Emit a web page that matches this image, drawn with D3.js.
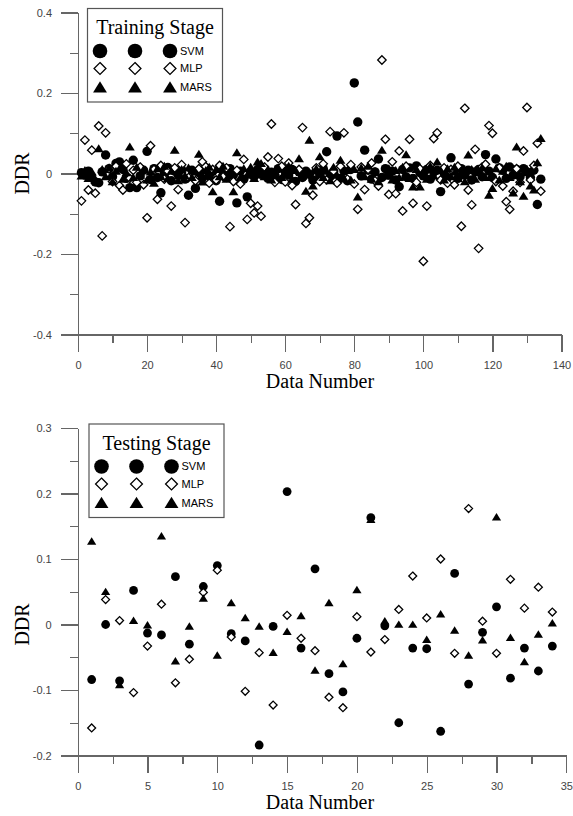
<!DOCTYPE html>
<html>
<head>
<meta charset="utf-8">
<script src="https://cdn.jsdelivr.net/npm/d3@7"></script>
<style>
  body { margin: 0; background: #fff; }
  svg { display: block; }
  .axis path, .axis line { stroke: #666; stroke-width: 1.2; shape-rendering: crispEdges; }
  .axis text { font-family: "Liberation Sans", Arial, sans-serif; font-size: 11px; fill: #444; }
  .title { font-family: "Liberation Serif", "Times New Roman", serif; font-size: 20px; fill: #000; }
  .legend-label { font-family: "Liberation Sans", Arial, sans-serif; font-size: 11px; fill: #000; }
</style>
</head>
<body>
<svg id="chart" width="573" height="816"></svg>
<script>
// ---- training stage (data number 1..134) ----
const trainSVM = [
  0.002, -0.004, 0.006, -0.010, -0.021, -0.023, 0.004, 0.046, 0.012, -0.008,
  0.025, 0.029, 0.010, -0.012, -0.035, 0.033, -0.035, -0.006, 0.008, 0.055,
  -0.015, 0.012, -0.010, -0.048, 0.004, 0.015, -0.018, 0.006, -0.004, 0.010,
  -0.014, -0.054, 0.008, -0.037, 0.002, -0.012, 0.014, -0.006, 0.005, -0.018,
  -0.069, 0.008, -0.010, 0.012, -0.004, -0.073, 0.006, -0.014, -0.058, 0.004,
  -0.008, 0.010, -0.002, 0.007, -0.012, 0.003, -0.006, 0.012, -0.015, 0.005,
  -0.004, 0.010, -0.020, 0.004, -0.010, 0.006, -0.002, -0.016, 0.008, -0.006,
  0.012, 0.054, -0.008, 0.004, 0.093, -0.012, 0.006, -0.018, 0.010, 0.225,
  0.128, -0.006, 0.058, 0.008, -0.014, 0.004, 0.036, -0.010, 0.012, -0.004,
  0.006, -0.016, -0.033, 0.010, -0.008, 0.014, -0.012, 0.019, 0.002, -0.006,
  0.010, -0.014, 0.004, 0.008, -0.045, 0.002, -0.010, 0.039, 0.006, -0.012,
  0.012, -0.004, 0.008, -0.016, 0.004, 0.010, -0.008, 0.047, 0.006, -0.010,
  0.036, 0.014, 0.008, -0.012, 0.016, -0.004, 0.010, -0.008, 0.012, 0.004,
  -0.010, 0.008, -0.077, -0.014
];
const trainMLP = [
  -0.068, 0.083, -0.041, 0.058, -0.049, 0.118, -0.155, 0.101, 0.012, -0.020,
  0.018, -0.030, -0.041, 0.024, -0.012, 0.008, -0.022, 0.016, -0.028, -0.110,
  0.069, 0.010, -0.064, 0.020, -0.014, 0.006, -0.081, 0.014, -0.040, 0.022,
  -0.122, -0.010, 0.234, -0.018, 0.012, 0.029, 0.017, -0.024, 0.010, -0.016,
  0.020, -0.008, 0.014, -0.132, -0.020, 0.008, -0.026, 0.035, -0.114, -0.074,
  -0.098, -0.081, -0.106, 0.016, 0.041, 0.123, -0.022, 0.037, 0.018, -0.021,
  0.026, -0.030, -0.077, 0.010, 0.114, -0.124, -0.110, -0.054, 0.014, -0.020,
  0.024, -0.016, 0.104, 0.006, -0.024, 0.018, 0.101, -0.014, 0.022, -0.026,
  -0.089, 0.016, -0.040, 0.010, 0.026, -0.018, -0.031, 0.282, 0.085, -0.052,
  0.029, -0.050, 0.056, -0.093, 0.018, 0.085, -0.074, -0.022, 0.012, -0.218,
  -0.081, 0.020, 0.087, 0.101, -0.016, 0.014, -0.024, 0.010, -0.028, 0.018,
  -0.131, 0.162, -0.041, -0.078, 0.060, -0.186, 0.016, 0.023, 0.119, 0.100,
  -0.020, 0.014, -0.031, -0.070, -0.089, -0.044, 0.012, -0.022, 0.056, 0.164,
  -0.016, 0.020, 0.075, -0.044
];
const trainMARS = [
  -0.006, 0.008, -0.012, 0.004, -0.016, 0.062, 0.010, -0.008, 0.014, -0.020,
  0.006, 0.012, -0.014, 0.002, 0.066, -0.010, 0.016, -0.004, 0.010, -0.016,
  0.004, -0.024, 0.012, -0.008, 0.018, -0.012, 0.006, 0.058, -0.018, 0.010,
  -0.006, 0.014, -0.010, 0.004, 0.048, -0.021, 0.008, 0.016, -0.045, 0.010,
  -0.008, 0.018, -0.014, 0.006, -0.045, 0.052, -0.010, 0.012, -0.004, 0.016,
  -0.012, 0.029, 0.025, -0.008, 0.010, -0.016, 0.006, 0.014, -0.010, 0.004,
  0.018, -0.014, 0.008, 0.037, -0.006, -0.044, 0.083, -0.031, 0.012, 0.042,
  -0.010, 0.006, -0.018, 0.016, -0.004, 0.033, -0.012, 0.008, -0.016, 0.010,
  -0.058, 0.014, -0.008, 0.018, -0.014, 0.006, -0.020, 0.058, -0.006, 0.012,
  -0.016, 0.008, -0.010, 0.016, 0.047, -0.012, -0.033, 0.010, -0.033, 0.006,
  -0.014, 0.018, -0.006, 0.029, 0.008, -0.016, 0.012, -0.008, 0.016, -0.012,
  0.004, -0.020, 0.046, 0.010, -0.014, 0.008, 0.014, -0.010, -0.054, -0.037,
  0.012, -0.016, 0.006, 0.018, -0.010, -0.048, 0.066, -0.020, -0.056, 0.010,
  -0.031, -0.041, 0.027, 0.087
];

// ---- testing stage (data number 1..34) ----
const testSVM = [
  -0.084, 0.000, -0.086, 0.052, -0.013, -0.016, 0.073, -0.030, 0.058, 0.090,
  -0.014, -0.025, -0.184, -0.003, 0.203, -0.036, 0.085, -0.075, -0.103, -0.021,
  0.163, -0.002, -0.150, -0.036, -0.037, -0.163, 0.078, -0.091, -0.012, 0.027,
  -0.082, -0.036, -0.071, -0.033
];
const testMLP = [
  -0.158, 0.038, 0.006, -0.104, -0.033, 0.031, -0.089, -0.053, 0.049, 0.083,
  -0.019, -0.102, -0.043, -0.123, 0.014, -0.021, -0.040, -0.111, -0.127, 0.012,
  -0.042, -0.023, 0.023, 0.074, 0.010, 0.100, -0.044, 0.177, 0.005, -0.044,
  0.069, 0.025, 0.057, 0.019
];
const testMARS = [
  0.127, 0.050, -0.092, 0.006, -0.001, 0.135, -0.056, -0.003, 0.040, -0.047,
  0.033, 0.010, -0.003, -0.043, -0.011, 0.013, -0.070, 0.033, -0.060, 0.053,
  0.160, 0.005, 0.000, 0.000, -0.023, 0.016, -0.009, -0.047, -0.024, 0.164,
  -0.020, -0.057, -0.015, 0.002
];

const seriesNames = ["SVM", "MLP", "MARS"];
const trainYTicks = [-0.4, -0.2, 0, 0.2, 0.4];
const trainYMinor = [-0.3, -0.1, 0.1, 0.3];
const trainXTicks = [0, 20, 40, 60, 80, 100, 120, 140];
const trainXMinor = [10, 30, 50, 70, 90, 110, 130];
const testYTicks = [-0.2, -0.1, 0, 0.1, 0.2, 0.3];
const testYMinor = [-0.15, -0.05, 0.05, 0.15, 0.25];
const testXTicks = [0, 5, 10, 15, 20, 25, 30, 35];
const testXMinor = [2.5, 7.5, 12.5, 17.5, 22.5, 27.5, 32.5];

const svg = d3.select("#chart");

// marker drawing, size = half width of the symbol
function drawMarker(sel, kind, size) {
  if (kind === "SVM") {
    sel.append("circle").attr("r", size).attr("fill", "#000");
  } else if (kind === "MLP") {
    const s = size * 0.9;
    sel.append("path")
      .attr("d", `M0,${-s}L${s},0L0,${s}L${-s},0Z`)
      .attr("fill", "#fff").attr("stroke", "#000").attr("stroke-width", 1.3);
  } else {
    const w = size * 1.05, h = size * 1.7;
    sel.append("path")
      .attr("d", `M0,${-h * 0.55}L${w},${h * 0.45}L${-w},${h * 0.45}Z`)
      .attr("fill", "#000");
  }
}

function fmt(v) {
  return v === 0 ? "0" : String(+v.toFixed(2));
}

function createScatter(cfg) {
  const x = d3.scaleLinear().domain(cfg.xDomain).range(cfg.xRange);
  const y = d3.scaleLinear().domain(cfg.yDomain).range(cfg.yRange);
  const g = svg.append("g");

  // axes: minor first, then major with labels
  const yMinor = d3.axisLeft(y).tickValues(cfg.yMinor).tickSize(8).tickFormat("").tickSizeOuter(0);
  const yMajor = d3.axisLeft(y).tickValues(cfg.yTicks).tickSize(17).tickPadding(9)
    .tickFormat(fmt).tickSizeOuter(0);
  const xMinor = d3.axisBottom(x).tickValues(cfg.xMinor).tickSize(8).tickFormat("").tickSizeOuter(0);
  const xMajor = d3.axisBottom(x).tickValues(cfg.xTicks).tickSize(17).tickPadding(9.5)
    .tickFormat(fmt).tickSizeOuter(0);

  g.append("g").attr("class", "axis").attr("transform", `translate(${cfg.xRange[0]},0)`).call(yMinor);
  g.append("g").attr("class", "axis").attr("transform", `translate(${cfg.xRange[0]},0)`).call(yMajor);
  g.append("g").attr("class", "axis").attr("transform", `translate(0,${cfg.yRange[0]})`).call(xMinor);
  g.append("g").attr("class", "axis").attr("transform", `translate(0,${cfg.yRange[0]})`).call(xMajor);

  // points
  cfg.series.forEach((vals, i) => {
    const kind = seriesNames[i];
    g.append("g")
      .selectAll("g")
      .data(vals)
      .join("g")
      .attr("transform", (d, j) => `translate(${x(j + 1)},${y(d)})`)
      .each(function () { drawMarker(d3.select(this), kind, cfg.markerSize); });
  });

  // axis titles
  g.append("text").attr("class", "title")
    .attr("x", 320).attr("y", cfg.yRange[0] + 53)
    .attr("text-anchor", "middle").text("Data Number");
  g.append("text").attr("class", "title")
    .attr("transform", `translate(29,${y(0)}) rotate(-90)`)
    .attr("text-anchor", "middle").text("DDR");

  // legend
  const lg = g.append("g").attr("transform", `translate(${cfg.legend[0]},${cfg.legend[1]})`);
  lg.append("rect").attr("width", 135).attr("height", 93.5)
    .attr("fill", "#fff").attr("stroke", "#555").attr("stroke-width", 1.2);
  lg.append("text").attr("class", "title").attr("x", 67.5).attr("y", 25.5)
    .attr("text-anchor", "middle").text(cfg.legendTitle);
  const rows = [42.5, 60, 79];
  seriesNames.forEach((name, i) => {
    [12.5, 47.5, 82.5].forEach((cx) => {
      const m = lg.append("g").attr("transform", `translate(${cx},${rows[i]})`);
      drawMarker(m, name, name === "SVM" ? 7.3 : 6.6);
    });
    lg.append("text").attr("class", "legend-label")
      .attr("x", 92.5).attr("y", rows[i]).attr("dy", "0.36em").text(name);
  });
}

createScatter({
  xDomain: [0, 140], xRange: [78, 561.5],
  yDomain: [-0.4, 0.4], yRange: [334.5, 12.5],
  xTicks: trainXTicks, xMinor: trainXMinor,
  yTicks: trainYTicks, yMinor: trainYMinor,
  series: [trainSVM, trainMLP, trainMARS],
  markerSize: 4.7,
  legend: [87.5, 8.5], legendTitle: "Training Stage"
});

createScatter({
  xDomain: [0, 35], xRange: [77.7, 566.3],
  yDomain: [-0.2, 0.3], yRange: [755.5, 428],
  xTicks: testXTicks, xMinor: testXMinor,
  yTicks: testYTicks, yMinor: testYMinor,
  series: [testSVM, testMLP, testMARS],
  markerSize: 4.4,
  legend: [89, 424], legendTitle: "Testing Stage"
});
</script>
</body>
</html>
